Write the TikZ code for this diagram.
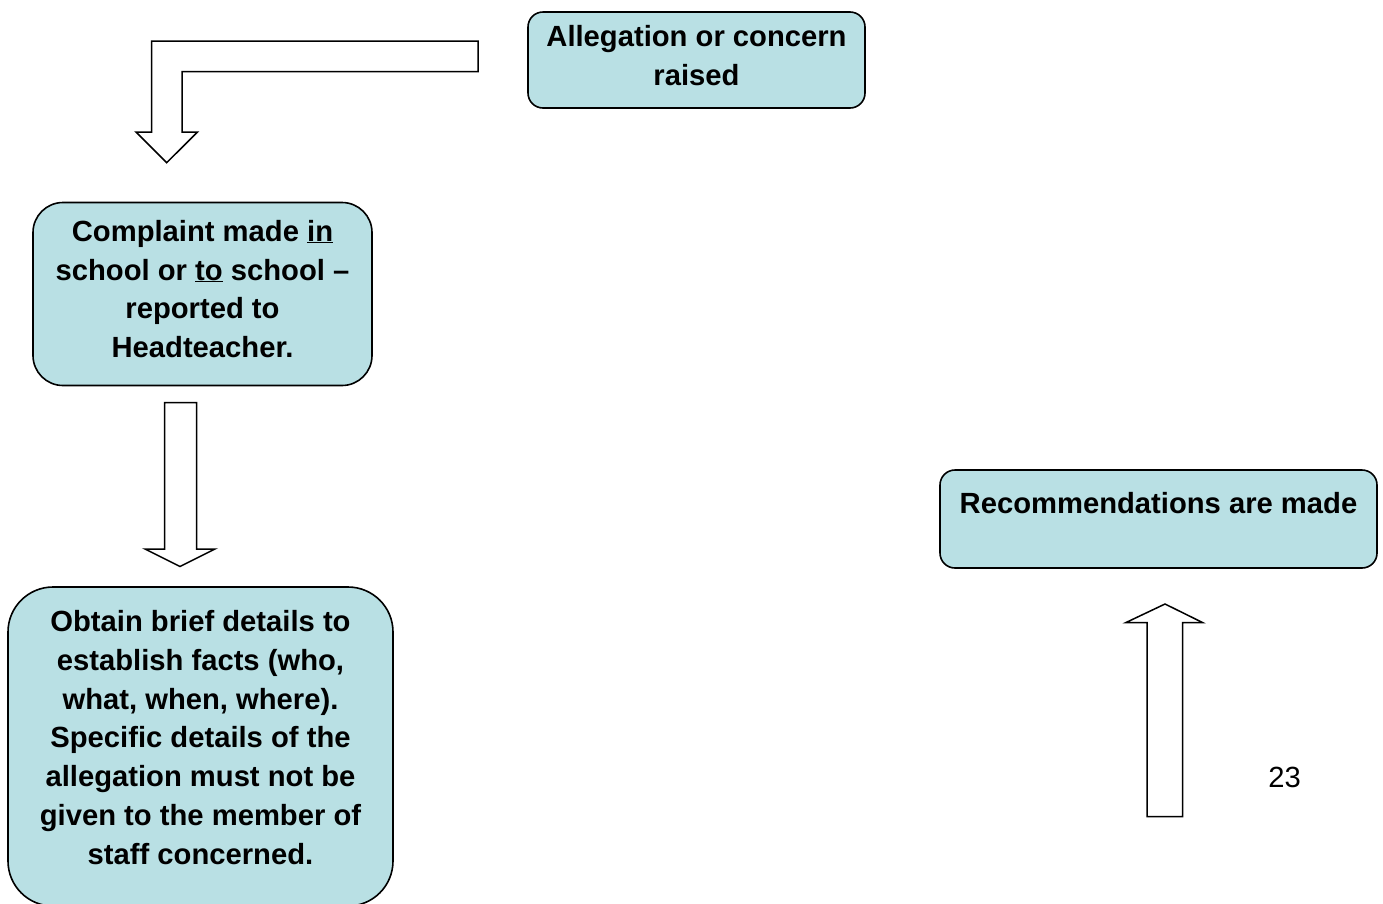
\documentclass[tikz,border=0pt]{standalone}
\usepackage{fontspec}
\setmainfont{Liberation Sans}
\usetikzlibrary{positioning}
\definecolor{boxfill}{RGB}{185,224,228}

\begin{document}
\begin{tikzpicture}[x=1pt,y=-1pt,
        box/.style={rectangle, draw, line width=1.6pt, fill=boxfill, rounded corners=#1, inner sep=0pt},
        box/.default=15pt,
        txt/.style={font=\fontsize{29.2}{38.8}\selectfont\bfseries, align=center, inner sep=0pt, anchor=base},
        blockarrow/.style={draw, line width=1.5pt, fill=white, line join=miter}]
        \useasboundingbox (0,0) rectangle (1383,903);
        \clip (0,0) rectangle (1383,903);
        % boxes
        \node[box, minimum width=337pt, minimum height=96pt] at (696.5,60) (allegation) {};
        \node[box=30pt, minimum width=339pt, minimum height=183pt] at (202.5,294) (complaint) {};
        \node[box=45pt, minimum width=385pt, minimum height=319pt] at (200.5,746.5) (obtain) {};
        \node[box, minimum width=437pt, minimum height=98pt] at (1158.5,519) (recommend) {};
        % texts (base = last line)
        \node[txt] at (696.5,85.5) (allegationtxt) {Allegation or concern\\raised};
        \node[txt] at (202.5,357.6) (complainttxt) {Complaint made \underline{in}\\school or \underline{to} school --\\reported to\\Headteacher.};
        \node[txt] at (200.5,864.3) (obtaintxt) {Obtain brief details to\\establish facts (who,\\what, when, where).\\Specific details of the\\allegation must not be\\given to the member of\\staff concerned.};
        \node[txt] at (1158.5,513.5) (recommendtxt) {Recommendations are made};
        \node[txt, font=\fontsize{29.2}{38.8}\selectfont] at (1284.5,787) (pagenum) {23};
        % block arrows
        \draw[blockarrow] (478,41) -- (151.5,41) -- (151.5,132) -- (136,132) -- (166.7,162.7)
                -- (197.5,132) -- (182,132) -- (182,71.5) -- (478,71.5) -- cycle;
        \draw[blockarrow] (164.5,402.5) -- (164.5,549) -- (145,549) -- (180,566.5)
                -- (215,549) -- (196.5,549) -- (196.5,402.5) -- cycle;
        \draw[blockarrow] (1147,816.5) -- (1147,622.5) -- (1126,622.5) -- (1165,604)
                -- (1202.5,622.5) -- (1182.5,622.5) -- (1182.5,816.5) -- cycle;
      \end{tikzpicture}
\end{document}
